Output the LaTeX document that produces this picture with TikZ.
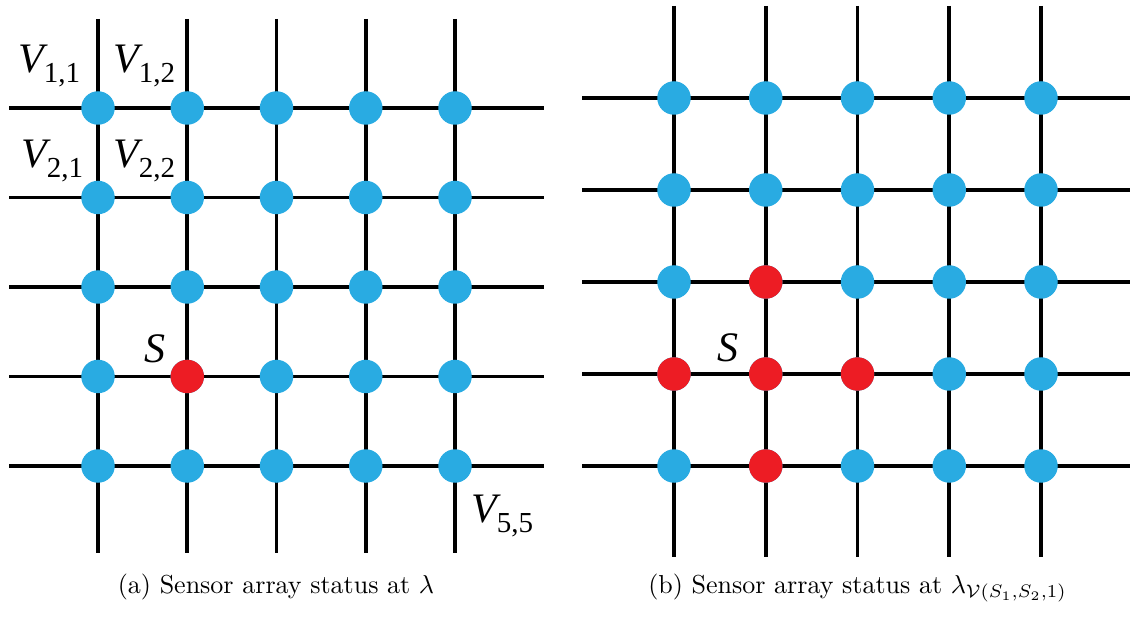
\documentclass[tikz,border=0pt]{standalone}
\usepackage{fontspec}
\newfontfamily\lblfont{Liberation Serif}
\definecolor{dotblue}{RGB}{41,171,226}
\definecolor{dotred}{RGB}{237,28,36}
\newcommand{\Vlab}[1]{{\lblfont\fontsize{42}{42}\selectfont\itshape V}\raisebox{-10pt}{\lblfont\fontsize{29}{29}\selectfont #1}}
\newcommand{\Slab}{{\lblfont\fontsize{42}{42}\selectfont\itshape S}}
\begin{document}
\begin{tikzpicture}[x=1pt,y=-1pt,
  gridline/.style={line width=3.8pt,black},
  bdot/.style={circle,fill=dotblue,minimum size=33.5pt,inner sep=0pt,draw=none},
  rdot/.style={circle,fill=dotred,minimum size=33.5pt,inner sep=0pt,draw=none},
  lbl/.style={anchor=base west,inner sep=0pt},
  captext/.style={anchor=base,inner sep=0pt,font=\fontsize{10}{12}\selectfont}]
\useasboundingbox (0,0) rectangle (1130,617);
% ---------- left grid ----------
\foreach \i/\y in {1/108,2/197.5,3/287,4/376.5,5/466}{
  \coordinate (aL\i) at (9,\y);
  \coordinate (aR\i) at (544,\y);
  \draw[gridline] (aL\i) -- (aR\i);
}
\foreach \j/\x in {1/98,2/187.25,3/276.5,4/365.75,5/455}{
  \coordinate (aT\j) at (\x,19);
  \coordinate (aB\j) at (\x,553);
  \draw[gridline] (aT\j) -- (aB\j);
}
\foreach \i/\y in {1/108,2/197.5,3/287,4/376.5,5/466}{
  \foreach \j/\x in {1/98,2/187.25,3/276.5,4/365.75,5/455}{
    \node[bdot] (a\i\j) at (\x,\y) {};
  }
}
\node[rdot] at (a42) {};
\node[lbl] (v11) at (18,73) {\Vlab{1,1}};
\node[lbl] (v12) at (113,73) {\Vlab{1,2}};
\node[lbl] (v21) at (21,168) {\Vlab{2,1}};
\node[lbl] (v22) at (113,168) {\Vlab{2,2}};
\node[lbl] (v55) at (471,522) {\Vlab{5,5}};
\node[lbl] (sa) at (144,363) {\Slab};
\node[captext] (capa) at (276,593) {\scalebox{2.6}{(a) Sensor array status at $\lambda$}};
% ---------- right grid ----------
\foreach \i/\y in {1/98,2/190,3/282,4/374,5/466}{
  \coordinate (bL\i) at (582,\y);
  \coordinate (bR\i) at (1130,\y);
  \draw[gridline] (bL\i) -- (bR\i);
}
\foreach \j/\x in {1/674,2/765.75,3/857.5,4/949.25,5/1041}{
  \coordinate (bT\j) at (\x,6);
  \coordinate (bB\j) at (\x,557);
  \draw[gridline] (bT\j) -- (bB\j);
}
\foreach \i/\y in {1/98,2/190,3/282,4/374,5/466}{
  \foreach \j/\x in {1/674,2/765.75,3/857.5,4/949.25,5/1041}{
    \node[bdot] (b\i\j) at (\x,\y) {};
  }
}
\foreach \n in {b32,b41,b42,b43,b52}{
  \node[rdot] at (\n) {};
}
\node[lbl] (sb) at (717,362) {\Slab};
\node[captext] (capb) at (857.5,593) {\scalebox{2.6}{(b) Sensor array status at $\lambda_{\mathcal{V}(S_1,S_2,1)}$}};
\end{tikzpicture}
\end{document}
